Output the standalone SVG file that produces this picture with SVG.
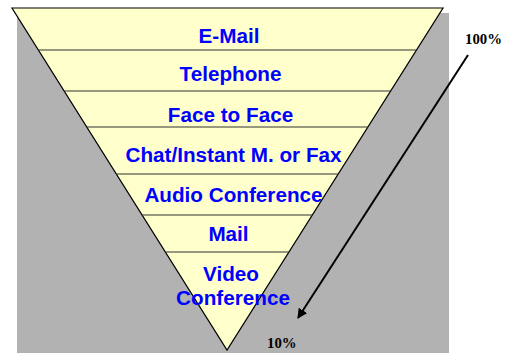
<svg xmlns="http://www.w3.org/2000/svg" width="505" height="353" viewBox="0 0 505 353">
<defs>
<style>
.lbl{font-family:"Liberation Sans",Arial,sans-serif;font-weight:bold;font-size:20.7px;fill:#0000ff;text-anchor:middle}
.pct{font-family:"Liberation Serif","Times New Roman",serif;font-weight:bold;font-size:14.8px;fill:#000}
.band{stroke:#333;stroke-width:1.2;fill:none}
</style>
<marker id="ah" viewBox="0 0 10 10" refX="9" refY="5" markerWidth="5" markerHeight="5" orient="auto" markerUnits="strokeWidth">
<path d="M0,0 L10,5 L0,10 z" fill="#000"/>
</marker>
</defs>
<rect x="0" y="0" width="505" height="353" fill="#fff"/>
<rect id="shadow" x="17" y="13" width="432" height="340" fill="#b2b2b2"/>
<g id="funnel">
<polygon points="12,8 443,8 227,350" fill="#ffffcc" stroke="#000" stroke-width="1.2"/>
<line class="band" x1="38.4" y1="50" x2="416.5" y2="50"/>
<line class="band" x1="64.2" y1="91" x2="390.6" y2="91"/>
<line class="band" x1="86.8" y1="127" x2="367.8" y2="127"/>
<line class="band" x1="116.4" y1="174" x2="338.2" y2="174"/>
<line class="band" x1="142.1" y1="215" x2="312.3" y2="215"/>
<line class="band" x1="165.4" y1="252" x2="288.9" y2="252"/>
</g>
<g id="n-email"><text class="lbl" x="229" y="43">E-Mail</text></g>
<g id="n-telephone"><text class="lbl" x="230.5" y="81">Telephone</text></g>
<g id="n-face"><text class="lbl" x="230.5" y="122">Face to Face</text></g>
<g id="n-chat"><text class="lbl" x="233.5" y="162">Chat/Instant M. or Fax</text></g>
<g id="n-audio"><text class="lbl" x="233.5" y="202">Audio Conference</text></g>
<g id="n-mail"><text class="lbl" x="228.5" y="241">Mail</text></g>
<g id="n-video"><text class="lbl" x="231" y="281">Video</text><text class="lbl" x="233" y="305">Conference</text></g>
<g id="connectors">
<line x1="468" y1="55" x2="298" y2="318" stroke="#000" stroke-width="2" marker-end="url(#ah)"/>
</g>
<g id="n-100"><text class="pct" x="465" y="44">100%</text></g>
<g id="n-10"><text class="pct" x="267" y="348">10%</text></g>
</svg>
